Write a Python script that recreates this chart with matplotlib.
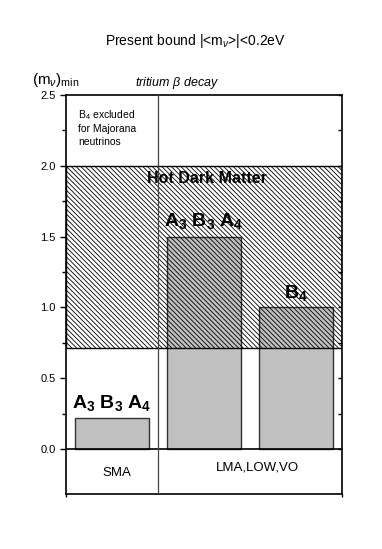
import matplotlib.pyplot as plt
from matplotlib.patches import Rectangle
from matplotlib.ticker import FixedLocator

plt.rcParams['font.family'] = ['Liberation Sans', 'DejaVu Sans']
plt.rcParams['mathtext.fontset'] = 'custom'
plt.rcParams['mathtext.rm'] = 'Liberation Sans'
plt.rcParams['mathtext.it'] = 'Liberation Sans:italic'
plt.rcParams['mathtext.bf'] = 'Liberation Sans:bold'
plt.rcParams['hatch.linewidth'] = 0.6

# data
regions = ['SMA', 'LMA,LOW,VO']
bar_pos = [0.5, 1.5, 2.5]
bar_vals = [0.217, 1.5, 1.0]
bar_labels = [r'$\mathbf{A_3\ B_3\ A_4}$', r'$\mathbf{A_3\ B_3\ A_4}$', r'$\mathbf{B_4}$']
hdm_low, hdm_high = 0.71, 2.0
yticks = [0.0, 0.5, 1.0, 1.5, 2.0, 2.5]
yminor = [0.25, 0.75, 1.25, 1.75, 2.25]

fig = plt.figure(figsize=(3.82, 5.49), dpi=100)
ax = fig.add_axes([66/382, 1-494/549, 276/382, 399/549])
ax.set_xlim(0, 3)
ax.set_ylim(-0.318, 2.5)

ax.bar(bar_pos, bar_vals, width=0.8, color='#c0c0c0', edgecolor='#333333', linewidth=1.0, zorder=2)

ax.add_patch(Rectangle((0, hdm_low), 3, hdm_high - hdm_low, facecolor='none',
                       edgecolor='black', hatch='\\' * 7, linewidth=1.0, zorder=3))

ax.axhline(0, color='black', lw=1.2, zorder=4)
ax.axvline(1.0, color='#444444', lw=0.9, zorder=4)

ax.text(1.53, 1.91, 'Hot Dark Matter', fontsize=11.5, fontweight='bold', ha='center', va='center', zorder=5)
ax.text(bar_pos[0], bar_vals[0] + 0.035, bar_labels[0], fontsize=14, ha='center', va='bottom', zorder=5)
ax.text(bar_pos[1], bar_vals[1] + 0.04, bar_labels[1], fontsize=14, ha='center', va='bottom', zorder=5)
ax.text(bar_pos[2], bar_vals[2] + 0.03, bar_labels[2], fontsize=14, ha='center', va='bottom', zorder=5)

ax.text(0.13, 2.41, 'B$_4$ excluded\nfor Majorana\nneutrinos', fontsize=7.5, ha='left', va='top',
        linespacing=1.35)

ax.text(0.55, -0.17, regions[0], fontsize=9.5, ha='center', va='center')
ax.text(2.08, -0.13, regions[1], fontsize=9.5, ha='center', va='center')

ax.set_yticks(yticks)
ax.set_yticklabels(['%.1f' % t for t in yticks], fontsize=8)
ax.yaxis.set_minor_locator(FixedLocator(yminor))
ax.tick_params(axis='y', which='both', direction='out', left=True, right=False, width=1.0)
ax.tick_params(axis='y', which='major', length=4)
ax.tick_params(axis='y', which='minor', length=3)
ax.set_xticks([0, 3])
ax.set_xticklabels([])
ax.tick_params(axis='x', direction='out', length=2.5, width=1.0)

ax2 = ax.secondary_yaxis('right')
ax2.set_yticks(yticks)
ax2.set_yticklabels([])
ax2.yaxis.set_minor_locator(FixedLocator(yminor))
ax2.tick_params(which='both', direction='in', length=3, width=1.0)
ax2.spines['right'].set_visible(False)

for s in ax.spines.values():
    s.set_linewidth(1.2)

fig.text(195/382, 1-41/549, r'Present bound |<m$_\nu$>|<0.2eV', fontsize=10, ha='center', va='center')
fig.text(32/382, 1-80/549, r'(m$_\nu$)$_{\rm min}$', fontsize=11, ha='left', va='center')
fig.text(135/382, 1-83/549, r'tritium $\beta$ decay', fontsize=9, style='italic', ha='left', va='center')

fig.savefig('out.png', dpi=100)
